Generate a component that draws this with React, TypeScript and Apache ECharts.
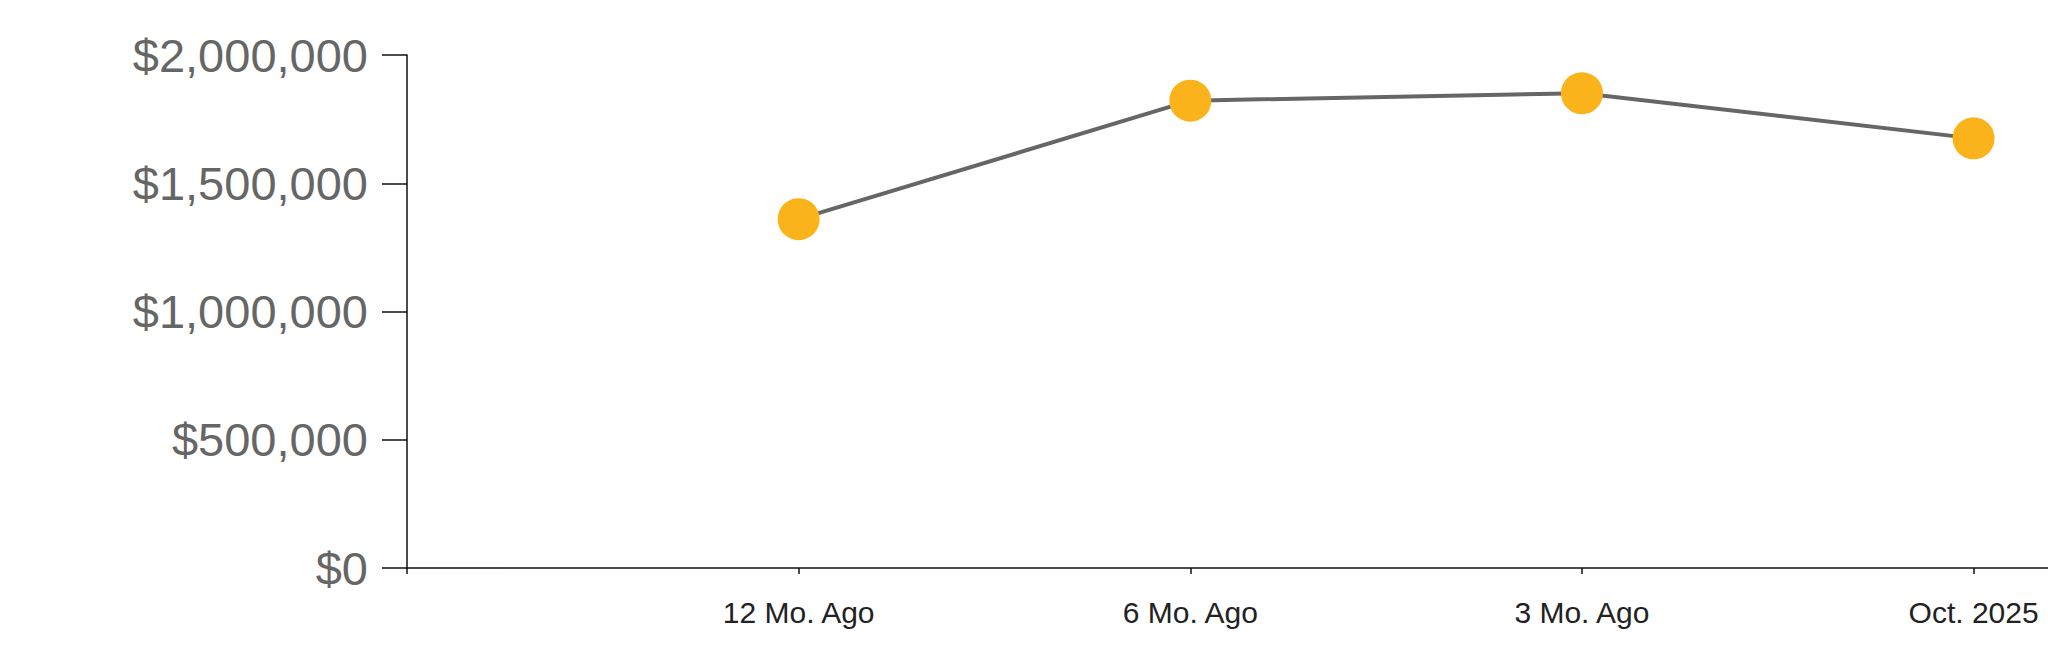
import React, { useEffect, useRef } from "react";
import * as echarts from "echarts";

const categories: string[] = ["", "12 Mo. Ago", "6 Mo. Ago", "3 Mo. Ago", "Oct. 2025"];
const values: (number | null)[] = [null, 1360000, 1822000, 1851000, 1675000];
const yTicks: number[] = [0, 500000, 1000000, 1500000, 2000000];

const fmtMoney = (v: number) => "$" + Math.round(v).toLocaleString("en-US");

export default function App() {
  const ref = useRef<HTMLDivElement>(null);
  useEffect(() => {
    document.body.style.margin = "0";
    const chart = echarts.init(ref.current!, null, { renderer: "svg" });
    const seriesData = values
      .map((v, i) => (v == null ? null : [i, v]))
      .filter((d) => d !== null);
    chart.setOption({
      animation: false,
      backgroundColor: "#ffffff",
      grid: { left: 407, top: 55, bottom: 95, right: 0, containLabel: false },
      xAxis: {
        type: "value",
        min: 0,
        max: 4.19,
        interval: 1,
        splitLine: { show: false },
        axisLine: { show: true, lineStyle: { color: "#111", width: 1.5 } },
        axisTick: {
          show: true,
          length: 6,
          customValues: [0, 1, 2, 3, 4],
          lineStyle: { color: "#111", width: 1.5 },
        },
        axisLabel: {
          customValues: [1, 2, 3, 4],
          formatter: (v: number) => categories[Math.round(v)] ?? "",
          fontFamily: "Liberation Sans, Arial, sans-serif",
          fontSize: 30,
          color: "#222",
          margin: 29,
        },
      },
      yAxis: {
        type: "value",
        min: yTicks[0],
        max: yTicks[yTicks.length - 1],
        interval: 500000,
        splitLine: { show: false },
        axisLine: { show: true, lineStyle: { color: "#111", width: 1.5 } },
        axisTick: { show: true, length: 25, lineStyle: { color: "#111", width: 1.5 } },
        axisLabel: {
          formatter: (v: number) => fmtMoney(v),
          fontFamily: "Liberation Sans, Arial, sans-serif",
          fontSize: 47,
          color: "#666",
          margin: 39,
        },
      },
      series: [
        {
          type: "line",
          data: seriesData,
          symbol: "circle",
          symbolSize: 42,
          lineStyle: { color: "#666", width: 4 },
          itemStyle: { color: "#FBB31B", borderWidth: 0 },
          z: 3,
        },
      ],
    });
    return () => chart.dispose();
  }, []);
  return (
    <div
      ref={ref}
      style={{ position: "absolute", left: 0, top: 0, width: 2048, height: 663 }}
    />
  );
}
